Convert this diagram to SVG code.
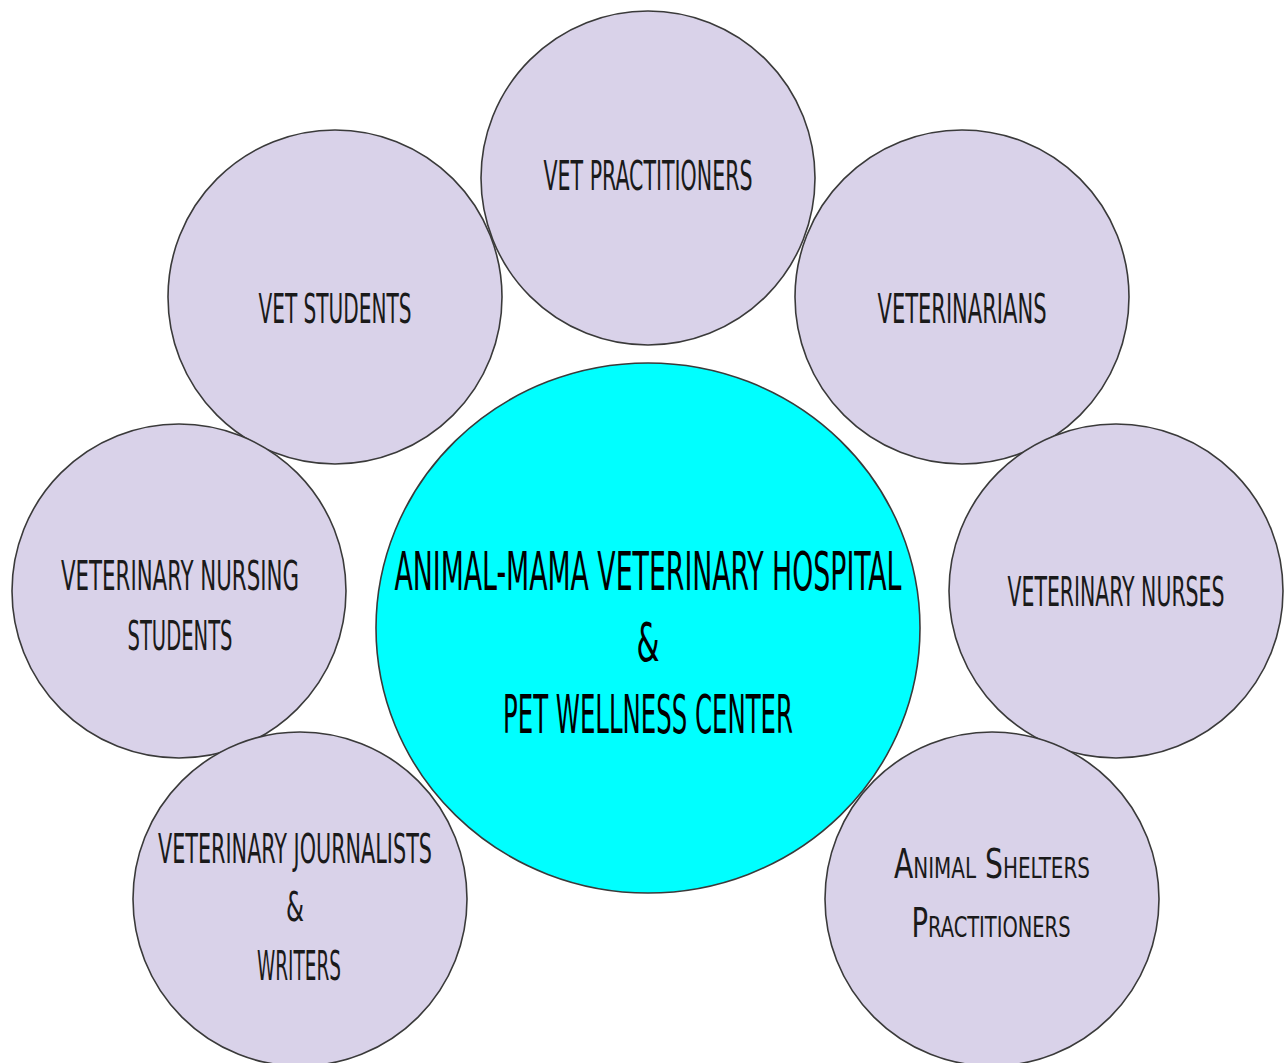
<svg xmlns="http://www.w3.org/2000/svg" width="1284" height="1063" viewBox="0 0 1284 1063">
<style>
.sat{fill:#d9d2e9;stroke:#3a3a3a;stroke-width:1.6}
.hub{fill:#00ffff;stroke:#3a3a3a;stroke-width:1.6}
text{font-family:"Liberation Sans Narrow","DejaVu Sans Condensed","Liberation Sans",sans-serif;text-anchor:middle;fill:#1a1a1a}
.s{font-size:41px}
.c{font-size:53px;fill:#000}
.sc{font-variant:small-caps}
</style>
<rect width="1284" height="1063" fill="#ffffff"/>
<g id="connectors"></g>
<g id="hub">
<ellipse class="hub" cx="648" cy="628" rx="272" ry="265"/>
<text class="c" x="648" y="590" textLength="507" lengthAdjust="spacingAndGlyphs">ANIMAL-MAMA VETERINARY HOSPITAL</text>
<text class="c" x="648" y="661" font-size="42" textLength="23" lengthAdjust="spacingAndGlyphs">&amp;</text>
<text class="c" x="648" y="733" textLength="290" lengthAdjust="spacingAndGlyphs">PET WELLNESS CENTER</text>
</g>
<g id="vet-practitioners">
<circle class="sat" cx="648" cy="178" r="167"/>
<text class="s" x="648" y="190" textLength="209" lengthAdjust="spacingAndGlyphs">VET PRACTITIONERS</text>
</g>
<g id="vet-students">
<circle class="sat" cx="335" cy="297" r="167"/>
<text class="s" x="335" y="323" textLength="153" lengthAdjust="spacingAndGlyphs">VET STUDENTS</text>
</g>
<g id="veterinarians">
<circle class="sat" cx="962" cy="297" r="167"/>
<text class="s" x="962" y="323" textLength="169" lengthAdjust="spacingAndGlyphs">VETERINARIANS</text>
</g>
<g id="veterinary-nursing-students">
<circle class="sat" cx="179" cy="591" r="167"/>
<text class="s" x="180" y="590" textLength="238" lengthAdjust="spacingAndGlyphs">VETERINARY NURSING</text>
<text class="s" x="180" y="650" textLength="105" lengthAdjust="spacingAndGlyphs">STUDENTS</text>
</g>
<g id="veterinary-nurses">
<circle class="sat" cx="1116" cy="591" r="167"/>
<text class="s" x="1116" y="606" textLength="217" lengthAdjust="spacingAndGlyphs">VETERINARY NURSES</text>
</g>
<g id="veterinary-journalists">
<circle class="sat" cx="300" cy="899" r="167"/>
<text class="s" x="295" y="863" textLength="274" lengthAdjust="spacingAndGlyphs">VETERINARY JOURNALISTS</text>
<text class="s" x="295" y="921" font-size="34" textLength="18" lengthAdjust="spacingAndGlyphs">&amp;</text>
<text class="s" x="299" y="980" textLength="84" lengthAdjust="spacingAndGlyphs">WRITERS</text>
</g>
<g id="animal-shelters">
<circle class="sat" cx="992" cy="899" r="167"/>
<text class="s sc" x="992" y="878" textLength="196" lengthAdjust="spacingAndGlyphs">Animal Shelters</text>
<text class="s sc" x="991" y="937" textLength="159" lengthAdjust="spacingAndGlyphs">Practitioners</text>
</g>
</svg>
